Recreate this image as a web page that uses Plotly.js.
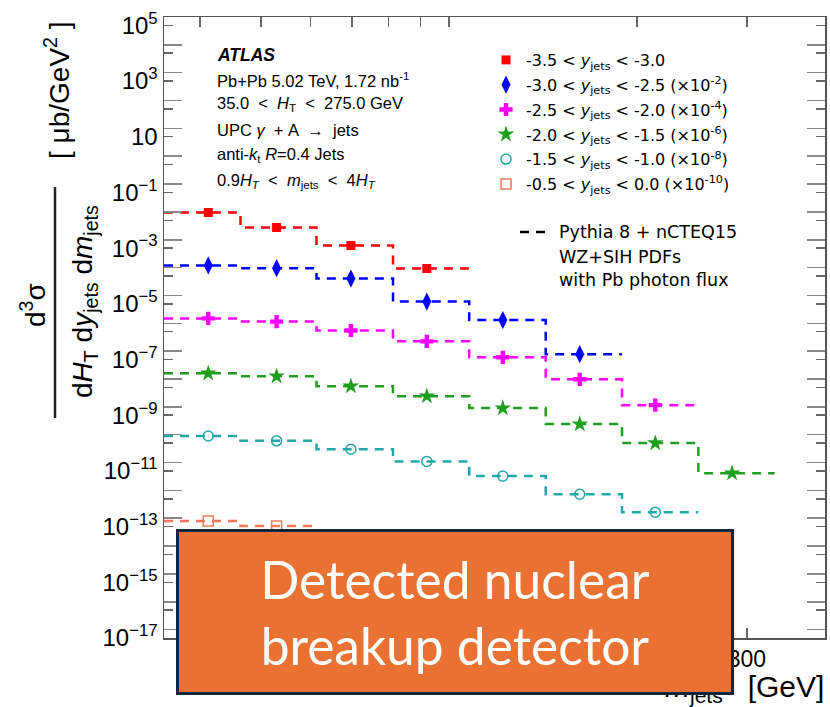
<!DOCTYPE html>
<html><head><meta charset="utf-8">
<script src="https://cdn.plot.ly/plotly-3.0.1.min.js"></script>
<style>html,body{margin:0;padding:0;background:#fff;} #chart{width:830px;height:707px;}</style>
</head><body><div id="chart"></div>
<script>
// ---- data (values as plotted, including the scale factors) ----
const binEdges = [35, 46.4, 61.4, 81.4, 107.8, 142.9, 189.3, 250.8, 332.3];
const pointX = [41.2, 53.0, 69.7, 92.2, 122, 162, 214, 284];
const seriesLabels = [
  "-3.5 &lt; <i>y</i><sub>jets</sub> &lt; -3.0",
  "-3.0 &lt; <i>y</i><sub>jets</sub> &lt; -2.5 (×10<sup>-2</sup>)",
  "-2.5 &lt; <i>y</i><sub>jets</sub> &lt; -2.0 (×10<sup>-4</sup>)",
  "-2.0 &lt; <i>y</i><sub>jets</sub> &lt; -1.5 (×10<sup>-6</sup>)",
  "-1.5 &lt; <i>y</i><sub>jets</sub> &lt; -1.0 (×10<sup>-8</sup>)",
  "-0.5 &lt; <i>y</i><sub>jets</sub> &lt; 0.0 (×10<sup>-10</sup>)"
];
const valsRed     = [1.9e-2, 5.5e-3, 1.24e-3, 1.86e-4];
const valsBlue    = [2.4e-4, 1.9e-4, 8.1e-5, 1.2e-5, 2.6e-6, 1.55e-7];
const valsMagenta = [3.0e-6, 2.3e-6, 1.1e-6, 4.5e-7, 1.2e-7, 1.95e-8, 2.3e-9];
const valsGreen   = [3.2e-8, 2.5e-8, 1.1e-8, 4.8e-9, 1.8e-9, 4.8e-10, 1.0e-10, 8.3e-12];
const valsCyan    = [1.8e-10, 1.2e-10, 6.0e-11, 2.2e-11, 6.5e-12, 1.45e-12, 3.3e-13];
const valsOrange  = [1.6e-13, 1.05e-13];
const yTickVals = [1e5,1e4,1e3,1e2,1e1,1e0,1e-1,1e-2,1e-3,1e-4,1e-5,1e-6,1e-7,1e-8,1e-9,1e-10,1e-11,1e-12,1e-13,1e-14,1e-15,1e-16,1e-17];
const yTickText = ["10<sup>5</sup>","","10<sup>3</sup>","","10","","10<sup>−1</sup>","","10<sup>−3</sup>","","10<sup>−5</sup>","","10<sup>−7</sup>","","10<sup>−9</sup>","","10<sup>−11</sup>","","10<sup>−13</sup>","","10<sup>−15</sup>","","10<sup>−17</sup>"];
const yMinorVals = [2e4,2e3,2e2,2e1,2e0,2e-1,2e-2,2e-3,2e-4,2e-5,2e-6,2e-7,2e-8,2e-9,2e-10,2e-11,2e-12,2e-13,2e-14,2e-15,2e-16,2e-17];
const xTickVals = [100, 200, 300];
const xTickText = ["", "", "300"];   // 100 and 200 are hidden under the overlay box
const xMinorVals = [40, 50, 60, 70, 80, 90];

const series = [
  {vals: valsRed,     color: "#ff0000", symbol: "square",      size: 9,  lw: 0},
  {vals: valsBlue,    color: "#0000ff", symbol: "diamond-tall",size: 13, lw: 0},
  {vals: valsMagenta, color: "#ff00ff", symbol: "cross",       size: 11, lw: 0},
  {vals: valsGreen,   color: "#1f9f1f", symbol: "star",        size: 12.5, lw: 0},
  {vals: valsCyan,    color: "#22a8a8", symbol: "circle-open", size: 10, lw: 1.5},
  {vals: valsOrange,  color: "#f47a55", symbol: "square-open", size: 10, lw: 1.5}
];

const FONT = "Liberation Sans, Arial, Helvetica, sans-serif";
const WFONT = "DejaVu Sans, Verdana, sans-serif";
const traces = [];
// model step lines
series.forEach((s) => {
  const n = s.vals.length;
  traces.push({
    x: binEdges.slice(0, n + 1),
    y: s.vals.concat([s.vals[n - 1]]),
    mode: "lines", type: "scatter",
    line: {shape: "hv", color: s.color, width: 2.5, dash: "9px,7px"},
    showlegend: false, hoverinfo: "skip"
  });
});
// data points
series.forEach((s, i) => {
  traces.push({
    x: pointX.slice(0, s.vals.length), y: s.vals,
    mode: "markers", type: "scatter", name: seriesLabels[i], legendgroup: "g" + i,
    marker: {symbol: s.symbol, size: s.size, color: s.color, line: {color: s.color, width: s.lw}}
  });
});

const W = 661, H = 621, L = 164, T = 17;
const px = (x) => (x - L) / W;
const py = (y) => (T + H - y) / H;

function txt(text, x, y, size, opts, family) {
  return Object.assign({xref: "paper", yref: "paper", x: px(x), y: py(y), text: text,
    showarrow: false, xanchor: "left", yanchor: "middle",
    font: {family: family || FONT, size: size, color: "#000"}}, opts || {});
}
const LT = "&nbsp;&lt;&nbsp;";

const annotations = [
  txt("<b><i>ATLAS</i></b>", 215, 55, 17.5),
  txt("Pb+Pb 5.02 TeV, 1.72 nb<sup>-1</sup>", 215, 80, 16.5),
  txt("35.0 " + LT + " <i>H</i><sub>T</sub> " + LT + " 275.0 GeV", 215, 104, 16.5),
  txt("UPC <i>γ</i> &nbsp;+ A &nbsp;→&nbsp; jets", 215, 130, 16.5),
  txt("anti-<i>k</i><sub>t</sub> <i>R</i>=0.4 Jets", 215, 155, 16.5),
  txt("0.9<i>H</i><sub><i>T</i></sub> " + LT + " <i>m</i><sub>jets</sub> " + LT + " 4<i>H</i><sub><i>T</i></sub>", 215, 181, 16.5),
  txt("Pythia 8 + nCTEQ15", 557, 232, 17.5, null, WFONT),
  txt("WZ+SIH PDFs", 557, 257, 17.5, null, WFONT),
  txt("with Pb photon flux", 557, 280, 17.5, null, WFONT),
  // y-axis title (fraction)
  txt("[ μb/GeV<sup>2</sup> ]", 57, 90, 28, {xanchor: "center", textangle: -90}),
  txt("d<sup>3</sup>σ", 33, 305, 28, {xanchor: "center", textangle: -90}),
  txt("d<i>H</i><sub>T</sub> d<i>y</i><sub>jets</sub> d<i>m</i><sub>jets</sub>", 84, 302, 28, {xanchor: "center", textangle: -90}),
  // x-axis title
  txt("<i>m</i><sub>jets</sub>&nbsp;&nbsp; [GeV]", 826, 688, 30, {xanchor: "right"}),
  // overlay box
  {xref: "paper", yref: "paper", x: px(455), y: py(612), xanchor: "center", yanchor: "middle",
   showarrow: false, text: "Detected nuclear<br>breakup detector",
   font: {family: "Lato, Noto Sans, sans-serif", size: 51.5, color: "#ffffff"},
   bgcolor: "#e97132", bordercolor: "#0e2841", borderwidth: 3, borderpad: 0,
   width: 552, height: 160, align: "center", valign: "middle"}
];

const shapes = [
  {type: "line", xref: "paper", yref: "paper", x0: px(55), x1: px(55), y0: py(187), y1: py(418),
   line: {color: "#222", width: 2.5}},
  {type: "line", xref: "paper", yref: "paper", x0: px(520), x1: px(550), y0: py(232), y1: py(232),
   line: {color: "#000", width: 2.5, dash: "9px,7px"}}
];

const axisCommon = {showline: true, linecolor: "#555", linewidth: 1.5, mirror: "ticks",
  ticks: "inside", tickcolor: "#666", tickwidth: 1.5, showgrid: false, zeroline: false};

const layout = {
  width: 830, height: 707,
  margin: {l: L, r: 830 - L - W, t: T, b: 707 - T - H, pad: 0},
  paper_bgcolor: "#fff", plot_bgcolor: "#fff",
  font: {family: FONT, color: "#000"},
  xaxis: Object.assign({}, axisCommon, {type: "log", range: [Math.log10(35), Math.log10(400)],
    tickvals: xTickVals, ticktext: xTickText, ticklen: 10, tickfont: {size: 23, family: FONT},
    minor: {tickvals: xMinorVals, ticks: "inside", ticklen: 10, tickcolor: "#666", tickwidth: 1.5}}),
  yaxis: Object.assign({}, axisCommon, {type: "log", range: [-17, 5.3],
    tickvals: yTickVals, ticktext: yTickText, ticklen: 9, tickfont: {size: 24, family: FONT},
    minor: {tickvals: yMinorVals, ticks: "inside", ticklen: 18, tickcolor: "#888", tickwidth: 1.5}}),
  legend: {x: px(486), y: py(43), xanchor: "left", yanchor: "top", bgcolor: "rgba(0,0,0,0)",
    font: {family: WFONT, size: 16, color: "#000"}, itemwidth: 30, tracegroupgap: 1, traceorder: "grouped"},
  showlegend: true,
  annotations: annotations,
  shapes: shapes
};

Plotly.newPlot("chart", traces, layout, {displayModeBar: false, staticPlot: true});
</script>
</body></html>
